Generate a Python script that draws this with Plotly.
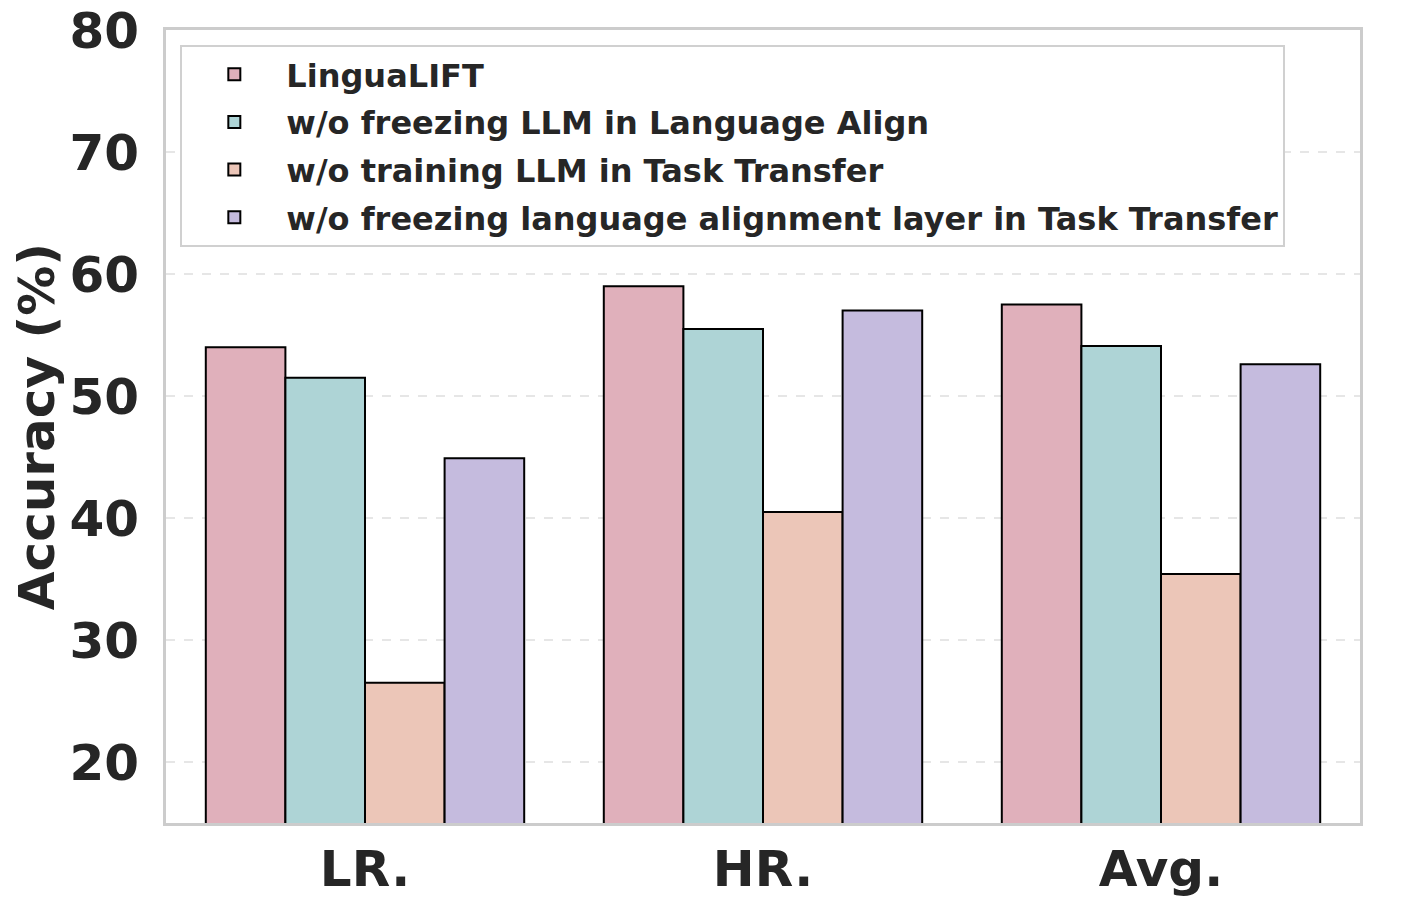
import plotly.graph_objects as go

categories = ["LR.", "HR.", "Avg."]
series_names = [
    "LinguaLIFT",
    "w/o freezing LLM in Language Align",
    "w/o training LLM in Task Transfer",
    "w/o freezing language alignment layer in Task Transfer",
]
lingualift = [54.0, 59.0, 57.5]
wo_freeze_llm = [51.5, 55.5, 54.1]
wo_train_llm = [26.5, 40.5, 35.4]
wo_freeze_align = [44.9, 57.0, 52.6]
colors = ["#e0b0bb", "#aed4d6", "#ecc6b8", "#c5bbde"]

FONT = "DejaVu Sans"
TXT = "#262626"

fig = go.Figure()
for i, (name, vals, col) in enumerate(zip(series_names,
                                          [lingualift, wo_freeze_llm, wo_train_llm, wo_freeze_align],
                                          colors)):
    fig.add_trace(go.Bar(
        x=categories, y=vals, name=name, legendgroup=f"g{i}",
        marker=dict(color=col, line=dict(color="black", width=2)),
    ))

# page body adds an 8px margin, so the figure is a bit smaller than the window
fig.update_layout(
    width=1404, height=900,
    margin=dict(l=158, r=52, t=22, b=85),
    plot_bgcolor="white", paper_bgcolor="white",
    barmode="group", bargap=0.2, bargroupgap=0,
    font=dict(family=FONT, color=TXT),
    legend=dict(
        x=0.012, y=0.981, xanchor="left", yanchor="top",
        bgcolor="white", bordercolor="#d0d0d0", borderwidth=2,
        font=dict(family=FONT, size=32, color=TXT, weight="bold"),
        tracegroupgap=3, itemwidth=94,
    ),
    showlegend=True,
)
fig.update_xaxes(
    showline=True, mirror=True, linecolor="#cccccc", linewidth=3,
    tickfont=dict(family=FONT, size=50, color=TXT, weight="bold"),
    ticks="", showgrid=False, automargin=False,
)
fig.update_yaxes(
    range=[15, 80], dtick=10, tick0=0,
    showline=True, mirror=True, linecolor="#cccccc", linewidth=3,
    showgrid=True, gridcolor="#e6e6e6", gridwidth=2, griddash="dash",
    tickfont=dict(family=FONT, size=50, color=TXT, weight="bold"),
    ticks="", zeroline=False, automargin=False, ticklabelstandoff=14,
    ticklabeloverflow="allow",
    title=dict(text="Accuracy (%)", font=dict(family=FONT, size=50, color=TXT, weight="bold"), standoff=6),
)

fig.write_html("out.html")
